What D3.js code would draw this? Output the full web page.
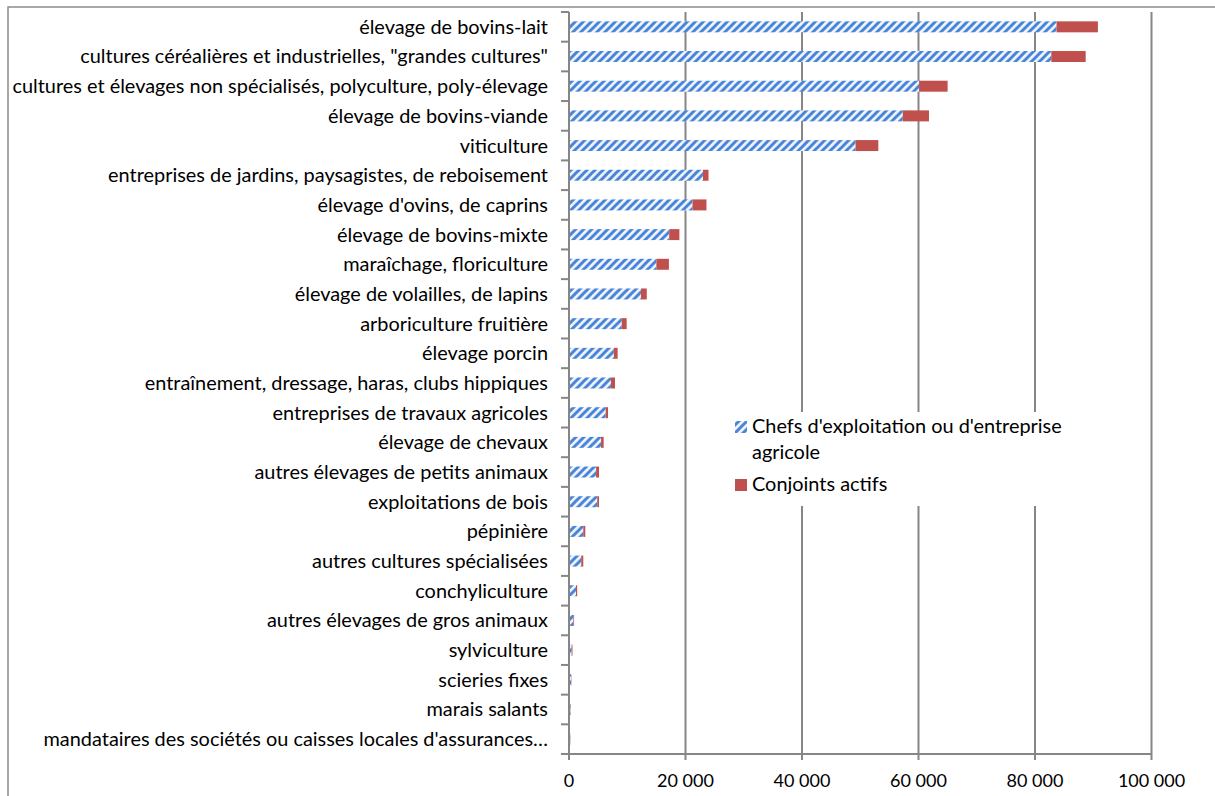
<!DOCTYPE html>
<html>
<head>
<meta charset="utf-8">
<script src="https://cdn.jsdelivr.net/npm/d3@7"></script>
<style>
  body { margin: 0; background: #fff; }
  text { font-family: Lato, "Noto Sans", sans-serif; fill: #000; }
</style>
</head>
<body>
<div id="chart"></div>
<script>
// categories, top to bottom
var categories = [
    "élevage de bovins-lait",
    "cultures céréalières et industrielles, \"grandes cultures\"",
    "cultures et élevages non spécialisés, polyculture, poly-élevage",
    "élevage de bovins-viande",
    "viticulture",
    "entreprises de jardins, paysagistes, de reboisement",
    "élevage d'ovins, de caprins",
    "élevage de bovins-mixte",
    "maraîchage, floriculture",
    "élevage de volailles, de lapins",
    "arboriculture fruitière",
    "élevage porcin",
    "entraînement, dressage, haras, clubs hippiques",
    "entreprises de travaux agricoles",
    "élevage de chevaux",
    "autres élevages de petits animaux",
    "exploitations de bois",
    "pépinière",
    "autres cultures spécialisées",
    "conchyliculture",
    "autres élevages de gros animaux",
    "sylviculture",
    "scieries fixes",
    "marais salants",
    "mandataires des sociétés ou caisses locales d'assurances…"
];
var chefs = [83700, 82800, 60100, 57300, 49200, 23000, 21200, 17200, 15000, 12350,
             9050, 7700, 7200, 6300, 5500, 4650, 4850, 2450, 2100, 1200,
             750, 450, 350, 250, 200];
var conjoints = [7100, 5900, 4900, 4500, 3900, 950, 2400, 1750, 2150, 1000,
                 850, 650, 700, 400, 450, 500, 300, 350, 350, 200,
                 120, 150, 60, 50, 40];
var xTicks = [0, 20000, 40000, 60000, 80000, 100000];
var seriesNames = ["Chefs d'exploitation ou d'entreprise agricole", "Conjoints actifs"];

var W = 1215, H = 796;
var margin = { top: 12, right: 63, bottom: 42, left: 569 };
var width = W - margin.left - margin.right,
    height = H - margin.top - margin.bottom;

var svg = d3.select("#chart").append("svg")
    .attr("width", W)
    .attr("height", H);

// outer frame (runs off the picture on the right and bottom)
svg.append("rect")
    .attr("x", 8).attr("y", 7)
    .attr("width", W + 20).attr("height", H + 20)
    .style("fill", "none")
    .style("stroke", "#8c8c8c")
    .style("stroke-width", 1.5);

var defs = svg.append("defs");
var pat = defs.append("pattern")
    .attr("id", "stripes")
    .attr("patternUnits", "userSpaceOnUse")
    .attr("width", 8).attr("height", 8);
pat.append("rect").attr("width", 8).attr("height", 8).style("fill", "#eef3fb");
pat.append("path")
    .attr("d", "M-2,2 L2,-2 M0,8 L8,0 M6,10 L10,6")
    .style("stroke", "#4a86d8")
    .style("stroke-width", 3);

var g = svg.append("g")
    .attr("transform", "translate(" + margin.left + "," + margin.top + ")");

var x = d3.scaleLinear().domain([0, 100000]).range([0, width - 0.5]);
var y = d3.scaleBand().domain(categories).range([0, height])
    .paddingInner(0.63).paddingOuter(0.315);

var fmt = d3.formatLocale({ decimal: ",", thousands: "\u00a0", grouping: [3], currency: ["", "€"] }).format(",d");

// grid lines + ticks below the axis
g.selectAll(".grid")
    .data(xTicks.slice(1))
    .enter().append("line")
    .attr("x1", function(d) { return x(d); })
    .attr("x2", function(d) { return x(d); })
    .attr("y1", 0)
    .attr("y2", height + 6)
    .style("stroke", "#868686")
    .style("stroke-width", 2);

// bars
var rows = categories.map(function(c, i) {
    return { cat: c, a: chefs[i], b: conjoints[i] };
});

g.selectAll(".bar-a")
    .data(rows)
    .enter().append("rect")
    .attr("x", x(0))
    .attr("y", function(d) { return y(d.cat); })
    .attr("width", function(d) { return x(d.a) - x(0); })
    .attr("height", y.bandwidth())
    .style("fill", "url(#stripes)");

g.selectAll(".bar-b")
    .data(rows)
    .enter().append("rect")
    .attr("x", function(d) { return x(d.a); })
    .attr("y", function(d) { return y(d.cat); })
    .attr("width", function(d) { return x(d.a + d.b) - x(d.a); })
    .attr("height", y.bandwidth())
    .style("fill", "#c0504d");

// x axis
g.append("line")
    .attr("x1", -7).attr("x2", width)
    .attr("y1", height).attr("y2", height)
    .style("stroke", "#868686").style("stroke-width", 2);
g.append("line")
    .attr("x1", 0).attr("x2", 0)
    .attr("y1", 0).attr("y2", height + 6)
    .style("stroke", "#868686").style("stroke-width", 2);

g.selectAll(".xlab")
    .data(xTicks)
    .enter().append("text")
    .attr("x", function(d) { return x(d); })
    .attr("y", height + 33)
    .attr("text-anchor", "middle")
    .style("font-size", "18px")
    .text(function(d) { return fmt(d); });

// y axis ticks at band boundaries
var step = y.step();
g.selectAll(".ytick")
    .data(d3.range(categories.length + 1))
    .enter().append("line")
    .attr("x1", -8).attr("x2", 0)
    .attr("y1", function(d) { return d * step; })
    .attr("y2", function(d) { return d * step; })
    .style("stroke", "#868686").style("stroke-width", 2);

var labels = g.selectAll(".ylab")
    .data(categories)
    .enter().append("text")
    .attr("x", -21)
    .attr("y", function(d) { return y(d) + y.bandwidth() / 2; })
    .attr("dy", "0.35em")
    .attr("text-anchor", "end")
    .style("font-size", "17px")
    .text(function(d) { return d; });

// fit the longest label to the reference width
var longest = labels.filter(function(d, i) { return i === 2; }).node();
var fs = 17 * 536 / longest.getComputedTextLength();
labels.style("font-size", fs + "px");

// legend
var lg = svg.append("g");
lg.append("rect")
    .attr("x", 726).attr("y", 412)
    .attr("width", 350).attr("height", 94)
    .style("fill", "#fff");
lg.append("rect")
    .attr("x", 735).attr("y", 421).attr("width", 12).attr("height", 12)
    .style("fill", "url(#stripes)");
lg.append("rect")
    .attr("x", 735).attr("y", 479).attr("width", 12).attr("height", 12)
    .style("fill", "#c0504d");
var t1 = lg.append("text").attr("x", 752).attr("y", 433).style("font-size", "17px")
    .text("Chefs d'exploitation ou d'entreprise");
var fl = 17 * 310 / t1.node().getComputedTextLength();
t1.style("font-size", fl + "px");
lg.append("text").attr("x", 752).attr("y", 459).style("font-size", fl + "px")
    .text("agricole");
lg.append("text").attr("x", 752).attr("y", 491).style("font-size", fl + "px")
    .text(seriesNames[1]);
</script>
</body>
</html>
